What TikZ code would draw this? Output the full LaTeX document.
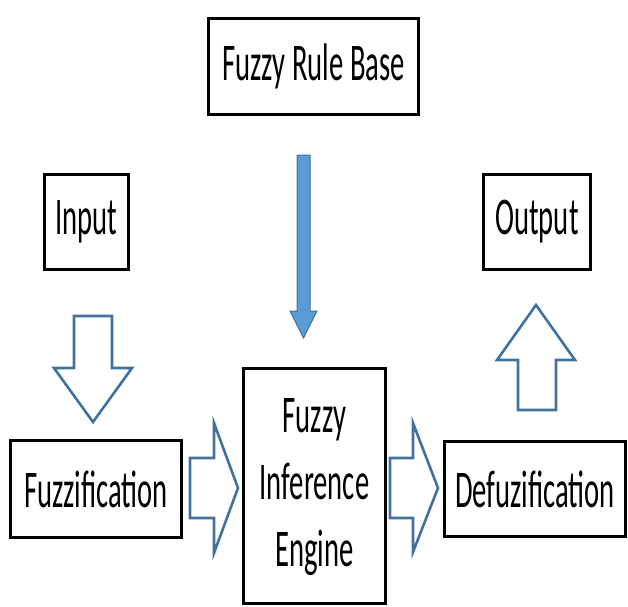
\documentclass[tikz,border=0pt]{standalone}
\usepackage{fontspec}
\setmainfont{Carlito}
\usepackage{graphicx}
\newcommand{\sq}[1]{\scalebox{0.54}[1]{#1}}
\definecolor{arrowline}{HTML}{41719C}
\definecolor{arrowfill}{HTML}{5B9BD5}
\begin{document}
\begin{tikzpicture}[x=1pt,y=-1pt,
  box/.style={draw=black, line width=3pt, fill=white, inner sep=0pt,
    font=\fontsize{53}{67}\selectfont},
  hollowarrow/.style={draw=arrowline, line width=2.6pt, fill=white, line join=miter},
  solidarrow/.style={draw=arrowline, line width=1pt, fill=arrowfill, line join=miter}]
\useasboundingbox (0,0) rectangle (628,606);
% boxes
\node[box, minimum width=210pt, minimum height=96pt] (rule) at (313.5,66.5) {\sq{Fuzzy Rule Base}};
\node[box, minimum width=84pt, minimum height=95pt] (input) at (86.5,222) {\sq{Input}};
\node[box, minimum width=107pt, minimum height=95pt] (output) at (537,222) {\sq{Output}};
\node[box, minimum width=171pt, minimum height=97pt] (fuzz) at (96,489) {\sq{Fuzzification}};
\node[box, minimum width=142pt, minimum height=235pt] (inf) at (314.5,486)
  {\sq{\begin{tabular}{@{}c@{}}Fuzzy\\Inference\\Engine\end{tabular}}};
\node[box, minimum width=181pt, minimum height=95pt] (defuz) at (535,489) {\sq{Defuzification}};
% block arrows
\draw[hollowarrow] (74,316) -- (112,316) -- (112,368) -- (132,368) -- (93,422) -- (54,368) -- (74,368) -- cycle;
\draw[hollowarrow] (190,458) -- (214,458) -- (214,423) -- (238,488) -- (214,553) -- (214,518) -- (190,518) -- cycle;
\draw[hollowarrow] (390,458) -- (413,458) -- (413,423) -- (438,488) -- (413,552) -- (413,518) -- (390,518) -- cycle;
\draw[hollowarrow] (518,410) -- (518,360) -- (497,360) -- (536,305) -- (575,360) -- (556,360) -- (556,410) -- cycle;
\draw[solidarrow] (297,155) -- (310,155) -- (310,311) -- (317,311) -- (303.5,338) -- (290,311) -- (297,311) -- cycle;
\end{tikzpicture}
\end{document}
